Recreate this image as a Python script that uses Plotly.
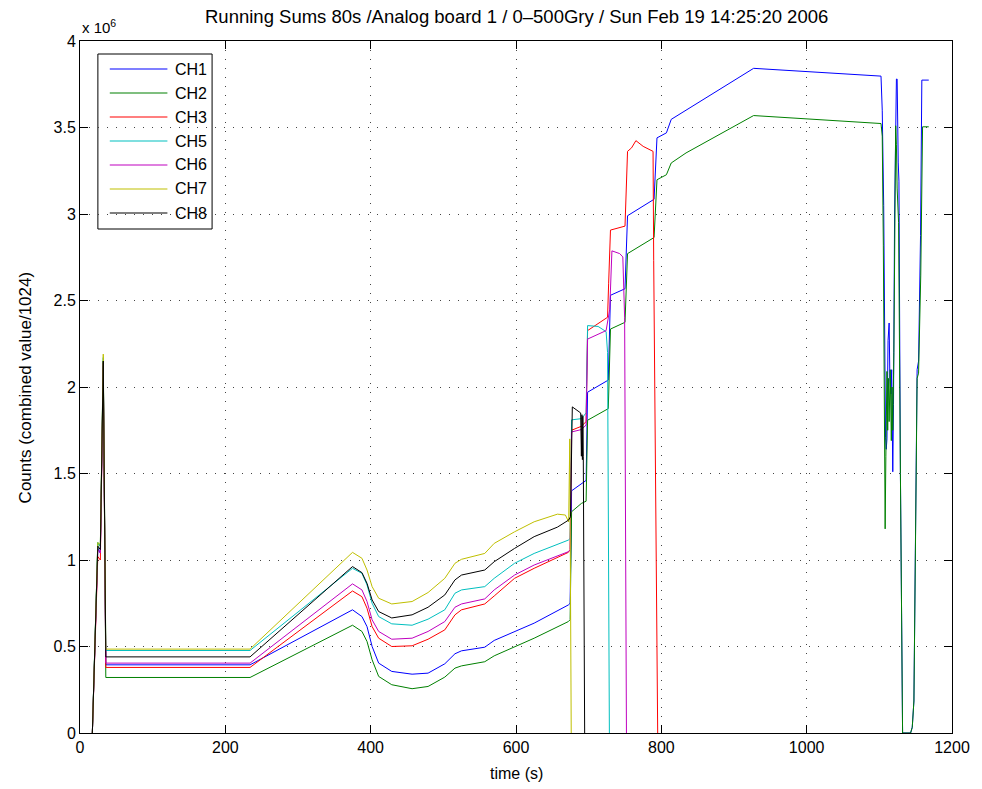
import plotly.graph_objects as go

# ---------------- data (counts in units of 1e6) ----------------
T_COMMON = [17, 24.5, 28, 32, 35.5, 234, 375, 388, 395, 402, 411, 429, 457, 479,
            502, 516, 525, 557, 570, 598, 625]

CH1_COMMON = [0, 1.07, 1.04, 2.12, 0.394, 0.394, 0.712, 0.673, 0.615, 0.500, 0.404,
              0.356, 0.340, 0.346, 0.400, 0.458, 0.475, 0.496, 0.535, 0.587, 0.635]
CH2_COMMON = [0, 1.10, 1.08, 2.15, 0.321, 0.321, 0.623, 0.587, 0.529, 0.423, 0.327,
              0.279, 0.256, 0.269, 0.323, 0.375, 0.388, 0.412, 0.446, 0.500, 0.548]
CH3_COMMON = [0, 1.02, 1.00, 2.10, 0.379, 0.379, 0.821, 0.788, 0.721, 0.615, 0.548,
              0.500, 0.504, 0.542, 0.596, 0.683, 0.712, 0.746, 0.792, 0.894, 0.952]
CH5_COMMON = [0, 1.10, 1.08, 2.17, 0.477, 0.477, 0.952, 0.923, 0.856, 0.750, 0.673,
              0.631, 0.623, 0.658, 0.712, 0.808, 0.827, 0.846, 0.894, 0.981, 1.038]
CH6_COMMON = [0, 1.06, 1.04, 2.14, 0.404, 0.404, 0.862, 0.827, 0.760, 0.654, 0.587,
              0.542, 0.548, 0.587, 0.644, 0.727, 0.746, 0.775, 0.827, 0.913, 0.971]
CH7_COMMON = [0, 1.10, 1.09, 2.19, 0.485, 0.485, 1.044, 1.010, 0.942, 0.846, 0.779,
              0.746, 0.760, 0.812, 0.894, 0.981, 1.004, 1.038, 1.096, 1.163, 1.221]
CH8_COMMON = [0, 1.08, 1.06, 2.15, 0.440, 0.440, 0.962, 0.927, 0.865, 0.769, 0.702,
              0.665, 0.683, 0.727, 0.798, 0.885, 0.913, 0.942, 0.990, 1.067, 1.135]

CH1_TAIL_T = [672, 674.5, 676.5, 690, 696.5, 698.5, 727, 730, 750, 753.5, 790, 794, 807,
              813.6, 927, 1102.3, 1104, 1106, 1107.5, 1108.5, 1109.5, 1110.5, 1112, 1113.5,
              1114.5, 1116, 1117, 1118.5, 1119.5, 1121, 1123.5, 1124.5, 1126, 1127, 1129,
              1132, 1143, 1145.3, 1147.6, 1150.8, 1152, 1154, 1156.7, 1158.5, 1168]
CH1_TAIL_V = [0.740, 0.75, 1.40, 1.442, 1.46, 1.97, 2.04, 2.53, 2.568, 2.99, 3.085, 3.44,
              3.469, 3.547, 3.842, 3.797, 3.6, 3.05, 1.95, 1.71, 1.64, 1.70, 2.27, 2.37,
              2.05, 1.96, 2.1, 1.51, 1.9, 3.0, 3.78, 3.78, 3.3, 3.19, 1.5,
              0.0, 0.0, 0.033, 0.185, 1.5, 2.1, 2.15, 2.876, 3.774, 3.774]

CH2_TAIL_T = [672, 674.5, 676.5, 690, 696.5, 698.5, 727, 730, 750, 753.5, 790, 794, 807,
              813.6, 834, 927, 1102.3, 1104, 1105.5, 1107, 1108, 1109, 1110.5, 1111.5,
              1112.5, 1113.5, 1115, 1116.5, 1117.5, 1118.5, 1120, 1122.5, 1123.5, 1124.5,
              1126.5, 1129, 1132, 1143, 1145.3, 1147.6, 1150.8, 1152, 1154, 1157, 1159.5, 1168]
CH2_TAIL_V = [0.644, 0.655, 1.279, 1.327, 1.34, 1.808, 1.875, 2.335, 2.374, 2.771, 2.864,
              3.198, 3.227, 3.295, 3.353, 3.569, 3.523, 3.45, 2.82, 1.6, 1.18, 1.6, 2.09,
              1.75, 2.05, 1.8, 2.1, 1.69, 2.0, 1.75, 2.2, 3.51, 3.4, 3.15, 2.95, 1.5,
              0.0, 0.0, 0.033, 0.185, 1.5, 2.05, 2.08, 2.647, 3.504, 3.504]

CH3_TAIL_T = [672, 674.5, 676.5, 690, 696.5, 698.5, 726, 727.5, 730, 750, 751, 753.5, 759,
              765, 775, 788.6, 789.5, 795]
CH3_TAIL_V = [1.044, 1.06, 1.75, 1.773, 1.80, 2.326, 2.403, 2.6, 2.907, 2.93, 3.1, 3.362,
              3.382, 3.424, 3.391, 3.362, 2.73, 0.0]

CH5_TAIL_T = [672, 674.5, 676.5, 690, 696.5, 698.5, 713, 724, 726, 728.5]
CH5_TAIL_V = [1.115, 1.125, 1.81, 1.817, 1.85, 2.355, 2.35, 2.32, 2.2, 0.0]

CH6_TAIL_T = [672, 674.5, 676.5, 690, 696.5, 698.5, 724, 729, 732, 742.7, 747, 749.5, 752]
CH6_TAIL_V = [1.048, 1.06, 1.74, 1.754, 1.78, 2.277, 2.326, 2.45, 2.787, 2.771, 2.752, 2.4, 0.0]

CH7_TAIL_T = [657, 668, 672.5, 674, 676]
CH7_TAIL_V = [1.265, 1.26, 1.22, 1.70, 0.0]

CH8_TAIL_T = [657, 672.5, 675, 677.5, 684, 689, 690, 690.7, 691.4, 692, 692.6, 694.5]
CH8_TAIL_V = [1.19, 1.231, 1.25, 1.885, 1.865, 1.85, 1.6, 1.84, 1.58, 1.83, 1.6, 0.0]

CHANNELS = ["CH1", "CH2", "CH3", "CH5", "CH6", "CH7", "CH8"]
COLORS = ["#0000FF", "#008000", "#FF0000", "#00BFBF", "#BF00BF", "#BFBF00", "#000000"]

X_TICKS = [0, 200, 400, 600, 800, 1000, 1200]
Y_TICKS = [0, 0.5, 1, 1.5, 2, 2.5, 3, 3.5, 4]
Y_TICK_TEXT = ["0", "0.5", "1", "1.5", "2", "2.5", "3", "3.5", "4"]

TITLE = "Running Sums 80s /Analog board 1 / 0\u2013500Gry / Sun Feb 19 14:25:20 2006"

series = [
    (CH1_COMMON, CH1_TAIL_T, CH1_TAIL_V),
    (CH2_COMMON, CH2_TAIL_T, CH2_TAIL_V),
    (CH3_COMMON, CH3_TAIL_T, CH3_TAIL_V),
    (CH5_COMMON, CH5_TAIL_T, CH5_TAIL_V),
    (CH6_COMMON, CH6_TAIL_T, CH6_TAIL_V),
    (CH7_COMMON, CH7_TAIL_T, CH7_TAIL_V),
    (CH8_COMMON, CH8_TAIL_T, CH8_TAIL_V),
]

FONT = "Liberation Sans, Arial, Helvetica, sans-serif"

# plot-area geometry in pixels
W, H = 982, 789
L, R, T, B = 80, 24, 41, 56
PW, PH = W - L - R, H - T - B


def px(xp):
    return (xp - L) / PW


def py(yp):
    return (H - B - yp) / PH


fig = go.Figure()
for name, color, (common, tt, tv) in zip(CHANNELS, COLORS, series):
    fig.add_trace(go.Scatter(
        x=list(T_COMMON) + list(tt),
        y=list(common) + list(tv),
        mode="lines", name=name, showlegend=False,
        line=dict(color=color, width=1),
    ))

# MATLAB-style legend drawn on a pixel-unit overlay axis
annotations = []
row_y = 69
for name, color in zip(CHANNELS, COLORS):
    fig.add_trace(go.Scatter(
        x=[110, 168], y=[row_y, row_y], xaxis="x2", yaxis="y2",
        mode="lines", line=dict(color=color, width=1.2),
        showlegend=False, hoverinfo="skip",
    ))
    annotations.append(dict(text=name, xref="paper", yref="paper",
                            x=px(174), y=py(row_y), xanchor="left", yanchor="middle",
                            showarrow=False,
                            font=dict(family=FONT, size=16, color="black")))
    row_y += 24

shapes = [dict(type="rect", xref="paper", yref="paper",
               x0=px(98), x1=px(213), y0=py(229), y1=py(54),
               line=dict(color="black", width=1), fillcolor="white", layer="between")]

annotations += [
    dict(text=TITLE, xref="paper", yref="paper", x=0.5, y=py(17),
         xanchor="center", yanchor="middle", showarrow=False,
         font=dict(family=FONT, size=18.5, color="black")),
    dict(text="x 10<sup>6</sup>", xref="paper", yref="paper", x=0.0, y=py(27),
         xanchor="left", yanchor="middle", showarrow=False,
         font=dict(family=FONT, size=15, color="black")),
    dict(text="time (s)", xref="paper", yref="paper", x=0.5, y=py(773),
         xanchor="center", yanchor="middle", showarrow=False,
         font=dict(family=FONT, size=16, color="black")),
    dict(text="Counts (combined value/1024)", xref="paper", yref="paper",
         x=px(25), y=0.5, xanchor="center", yanchor="middle", textangle=-90,
         showarrow=False, font=dict(family=FONT, size=17, color="black")),
]

axis_common = dict(
    showline=True, linecolor="black", linewidth=1, mirror="ticks",
    ticks="inside", ticklen=8, tickcolor="black", tickwidth=1,
    showgrid=True, gridcolor="#444444", gridwidth=1, griddash="1px,8px",
    zeroline=False, tickfont=dict(family=FONT, size=16, color="black"),
)

fig.update_layout(
    width=W, height=H,
    margin=dict(l=L, r=R, t=T, b=B),
    paper_bgcolor="white", plot_bgcolor="white",
    font=dict(family=FONT, color="black"),
    showlegend=False,
    xaxis=dict(range=[0, 1200], tickvals=X_TICKS, **axis_common),
    yaxis=dict(range=[0, 4], tickvals=Y_TICKS, ticktext=Y_TICK_TEXT, **axis_common),
    xaxis2=dict(overlaying="x", range=[L, W - R], visible=False, fixedrange=True),
    yaxis2=dict(overlaying="y", range=[H - B, T], visible=False, fixedrange=True),
    shapes=shapes,
    annotations=annotations,
)

fig.write_html("out.html")
